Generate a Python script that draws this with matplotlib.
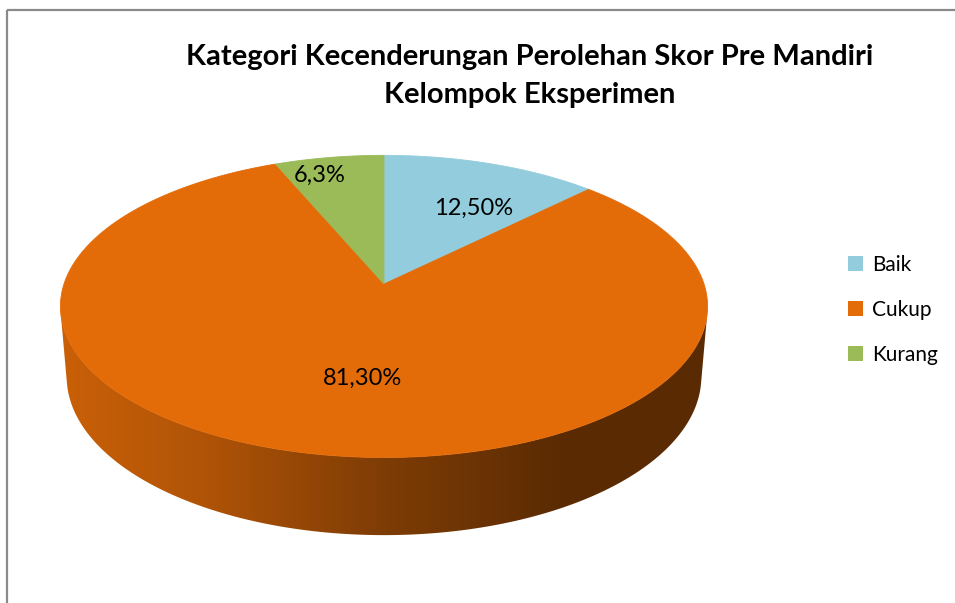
import numpy as np
import matplotlib
matplotlib.use('Agg')
import matplotlib.pyplot as plt
from matplotlib.patches import Polygon, Rectangle
from matplotlib.colors import to_rgb

categories = ['Baik', 'Cukup', 'Kurang']
values = [12.5, 81.3, 6.3]
value_labels = ['12,50%', '81,30%', '6,3%']
colors = ['#93CDDD', '#E36C09', '#9BBB59']
title = 'Kategori Kecenderungan Perolehan Skor Pre Mandiri\nKelompok Eksperimen'

# label placement style: (radius fraction, angular shift in degrees)
label_place = [(0.634, 6.1), (0.585, -5.1), (0.858, -3.9)]

W, H = 955, 603
fig = plt.figure(figsize=(W / 100, H / 100), dpi=100)
ax = fig.add_axes([0, 0, 1, 1])
ax.set_xlim(0, W)
ax.set_ylim(H, 0)
ax.axis('off')

# perspective projection of a tilted disc
CX, CY = 384, 284
S = 320
D = 5.98
ALPHA = np.radians(27.5)
THICK = 0.25
sa, ca = np.sin(ALPHA), np.cos(ALPHA)


def proj(r, phi, z=0.0):
    u = r * np.sin(phi)
    w = r * np.cos(phi)
    Y = w * sa + z * ca
    Z = D + w * ca - z * sa
    return CX + S * D * u / Z, CY - S * D * Y / Z


vals = np.array(values, dtype=float)
frac = vals / vals.sum()
bounds = np.concatenate([[0], np.cumsum(frac)]) * 2 * np.pi

# side walls
phi_v = np.arccos(-1.0 / (D * ca))
xs_grad = np.linspace(0, W, 600)
stops_x = [60, 200, 380, 560, 955]
stops_f = [0.89, 0.78, 0.56, 0.40, 0.40]
fac = np.interp(xs_grad, stops_x, stops_f)
for i, c in enumerate(colors):
    a0, a1 = bounds[i], bounds[i + 1]
    s0, s1 = max(a0, phi_v), min(a1, 2 * np.pi - phi_v)
    if s1 <= s0:
        continue
    ph = np.linspace(s0, s1, 300)
    tx, ty = proj(1.0, ph, 0.0)
    bx, by = proj(1.0, ph, -THICK)
    pts = np.column_stack([np.concatenate([tx, bx[::-1]]), np.concatenate([ty, by[::-1]])])
    poly = Polygon(pts, closed=True, facecolor='none', edgecolor='none')
    ax.add_patch(poly)
    rgb = np.array(to_rgb(c))
    img = (fac[:, None] * rgb[None, :])[None, :, :]
    im = ax.imshow(img, extent=[0, W, H, 0], aspect='auto', interpolation='bilinear', zorder=1)
    im.set_clip_path(poly)

ax.set_xlim(0, W)
ax.set_ylim(H, 0)

# top faces
for i, c in enumerate(colors):
    a0, a1 = bounds[i], bounds[i + 1]
    ph = np.linspace(a0, a1, 300)
    tx, ty = proj(1.0, ph, 0.0)
    pts = np.column_stack([np.concatenate([[CX], tx]), np.concatenate([[CY], ty])])
    ax.add_patch(Polygon(pts, closed=True, facecolor=c, edgecolor=c, lw=0.6, zorder=2))

# data labels
for i, lab in enumerate(value_labels):
    mid = (bounds[i] + bounds[i + 1]) / 2
    rr, dphi = label_place[i]
    lx, ly = proj(rr, mid + np.radians(dphi), 0.0)
    ax.text(lx, ly, lab, ha='center', va='center', fontsize=17, family='Lato',
            color='black', zorder=3)

# title
ax.text(530, 76, title, ha='center', va='center', fontsize=21, family='Lato',
        fontweight='bold', linespacing=1.55, zorder=3)

# frame
ax.add_patch(Rectangle((7, 10), 1000, 700, fill=False, edgecolor='#8a8a8a', lw=1.6, zorder=4))

# legend
handles = [Rectangle((0, 0), 1, 1, facecolor=c, edgecolor='none') for c in colors]
leg = ax.legend(handles, categories, loc='center left', bbox_to_anchor=(0.868, 0.486),
                frameon=False, handlelength=0.75, handleheight=0.75, handletextpad=0.4,
                labelspacing=1.2, prop={'family': 'Lato', 'size': 15})

fig.savefig('out.png', dpi=100)
